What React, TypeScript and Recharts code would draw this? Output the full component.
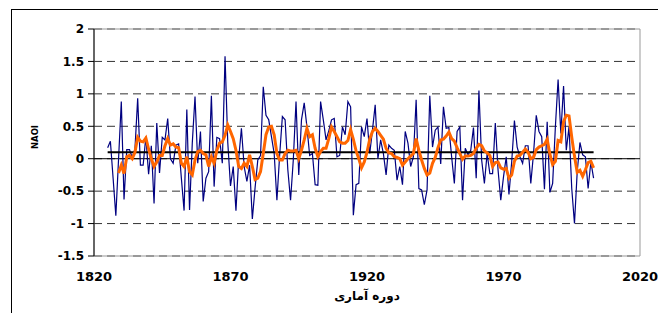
import React from 'react';
import { LineChart, Line, XAxis, YAxis, CartesianGrid, ReferenceLine, ReferenceArea } from 'recharts';

const firstYear = 1825;
const naoi: number[] = [
  0.17, 0.27, -0.3, -0.88, 0.0, 0.88, -0.63, 0.14, 0.14, 0.02,
  0.15, 0.93, -0.1, -0.1, 0.34, -0.24, 0.2, -0.69, 0.55, -0.22,
  0.33, 0.29, 0.62, 0.0, -0.07, 0.21, 0.23, -0.3, -0.8, 0.76,
  -0.79, 0.24, 0.96, -0.07, 0.42, -0.66, -0.3, -0.2, 0.97, -0.43,
  0.33, 0.31, -0.07, 1.58, 0.25, -0.42, -0.12, -0.8, 0.0, 0.47,
  -0.12, -0.35, -0.1, -0.93, -0.45, -0.02, 0.05, 1.11, 0.67, 0.6,
  0.34, 0.08, -0.64, 0.05, 0.65, 0.6, -0.17, -0.64, -0.02, 0.88,
  -0.25, 0.6, 0.86, 0.49, 0.05, 0.08, -0.4, -0.41, 0.88, 0.6,
  0.29, 0.43, 0.6, 0.62, 0.03, 0.05, 0.49, 0.37, 0.88, 0.8,
  -0.87, -0.4, -0.38, 0.49, 0.34, 0.62, 0.08, 0.44, 0.83, 0.0,
  0.29, 0.08, -0.25, 0.21, 0.16, 0.13, -0.33, -0.12, -0.4, 0.42,
  0.24, -0.12, 0.03, 0.91, -0.46, -0.48, -0.71, -0.48, 0.97, 0.18,
  0.44, 0.49, -0.08, 0.8, 0.47, 0.48, 0.03, -0.38, 0.42, 0.49,
  -0.64, 0.16, 0.06, 0.13, 0.48, -0.3, 1.05, -0.02, -0.38, 0.08,
  -0.23, -0.23, 0.55, -0.17, -0.64, -0.28, 0.03, -0.55, -0.05, 0.59,
  0.18, 0.03, -0.07, 0.2, 0.2, -0.38, 0.08, 0.67, 0.42, 0.34,
  -0.47, 0.57, -0.52, -0.38, 0.49, 1.22, 0.39, 1.12, 0.13, 0.49,
  -0.46, -1.0, -0.2, 0.25, 0.06, 0.03, -0.46, -0.05, -0.3,
];

const maFirstYear = 1829;
const movingAverage: number[] = [
  -0.22, -0.1, -0.23, 0.03, 0.05, 0.0, 0.1, 0.33, 0.27, 0.26,
  0.32, 0.15, 0.0, -0.12, -0.05, 0.05, 0.05, 0.2, 0.31, 0.21,
  0.23, 0.18, 0.17, -0.07, -0.12, 0.03, -0.2, -0.25, -0.02, 0.11,
  0.13, 0.08, 0.06, -0.12, 0.03, -0.07, 0.13, 0.24, 0.26, 0.36,
  0.52, 0.42, 0.31, 0.13, -0.12, -0.15, -0.07, -0.12, 0.06, -0.12,
  -0.32, -0.3, -0.2, 0.08, 0.37, 0.49, 0.5, 0.37, 0.08, -0.02,
  -0.02, 0.08, 0.13, 0.12, 0.12, 0.13, 0.0, 0.13, 0.29, 0.47,
  0.34, 0.37, 0.16, 0.03, 0.11, 0.16, 0.16, 0.31, 0.49, 0.42,
  0.34, 0.26, 0.24, 0.24, 0.28, 0.45, 0.3, 0.12, 0.0, -0.14,
  -0.05, 0.1, 0.3, 0.42, 0.47, 0.42, 0.36, 0.3, 0.16, 0.09,
  0.08, 0.03, 0.02, 0.0, -0.1, -0.05, 0.0, 0.04, 0.08, 0.31,
  0.13, -0.02, -0.15, -0.25, -0.22, -0.07, 0.02, 0.17, 0.29, 0.3,
  0.35, 0.41, 0.31, 0.27, 0.17, 0.08, -0.01, 0.04, 0.04, 0.05,
  0.08, 0.16, 0.22, 0.2, 0.12, 0.09, 0.05, -0.12, -0.06, -0.05,
  -0.14, -0.16, -0.15, -0.3, -0.25, -0.04, 0.04, 0.05, 0.1, 0.15,
  0.1, 0.0, 0.02, 0.14, 0.18, 0.2, 0.22, 0.3, 0.07, -0.09,
  -0.04, 0.28, 0.26, 0.57, 0.67, 0.66, 0.33, 0.04, -0.21, -0.18,
  -0.27, -0.17, -0.06, -0.04, -0.14,
];

const meanNaoi = 0.1;
const xTicks = [1820, 1870, 1920, 1970, 2020];
const yTicks = [-1.5, -1, -0.5, 0, 0.5, 1, 1.5, 2];
const xTitle = 'دوره آماری';
const yTitle = 'NAOI';

const data = naoi.map((v, i) => {
  const year = firstYear + i;
  const j = year - maFirstYear;
  return { year, naoi: v, ma: j >= 0 ? movingAverage[j] : null };
});
const lastYear = firstYear + naoi.length - 1;

const font = "'DejaVu Sans', 'Liberation Sans', sans-serif";
const xTickStyle = { fill: '#000', fontSize: 13, fontWeight: 700, fontFamily: font };
const yTickStyle = { fill: '#000', fontSize: 12, fontWeight: 700, fontFamily: font };

export default function App() {
  return (
    <div style={{ position: 'fixed', left: 0, top: 0, width: 658, height: 313, overflow: 'hidden', background: '#fff' }}>
      <div style={{ position: 'absolute', left: 11, top: 9, width: 700, height: 400, border: '1px solid #000', boxSizing: 'border-box' }} />
      <div style={{ position: 'absolute', left: 0, top: 0 }}>
        <LineChart width={658} height={313} data={data} margin={{ top: 29, right: 18, bottom: 17, left: 34 }}>
          <ReferenceArea x1={1820} x2={2020} y1={-1.5} y2={2} fill="none" stroke="#999" strokeWidth={1} ifOverflow="visible" />
          <CartesianGrid vertical={false} stroke="#333" strokeDasharray="8 5" />
          <XAxis dataKey="year" type="number" domain={[1820, 2020]} ticks={xTicks} axisLine={false} tickLine={false}
            tick={xTickStyle} height={40} tickMargin={10} allowDataOverflow interval={0} />
          <YAxis type="number" domain={[-1.5, 2]} ticks={yTicks} width={60} axisLine={{ stroke: '#000' }}
            tickLine={{ stroke: '#000' }} tickSize={6} tickMargin={4} tick={yTickStyle} interval={0} />
          <ReferenceLine y={0} stroke="#000" strokeWidth={1} />
          <Line dataKey="naoi" stroke="#000080" strokeWidth={1.2} dot={false} isAnimationActive={false} />
          <ReferenceLine segment={[{ x: firstYear, y: meanNaoi }, { x: lastYear, y: meanNaoi }]} stroke="#000" strokeWidth={2} />
          <Line dataKey="ma" stroke="#FF6600" strokeWidth={3} dot={false} isAnimationActive={false} />
        </LineChart>
      </div>
      <div style={{ position: 'absolute', left: 35, top: 137, transform: 'translate(-50%, -50%) rotate(-90deg)', fontFamily: font, fontWeight: 700, fontSize: 8.5, whiteSpace: 'nowrap' }}>{yTitle}</div>
      <div dir="rtl" style={{ position: 'absolute', left: 367, top: 296, transform: 'translate(-50%, -50%)', fontFamily: font, fontWeight: 700, fontSize: 12, whiteSpace: 'nowrap' }}>{xTitle}</div>
    </div>
  );
}
